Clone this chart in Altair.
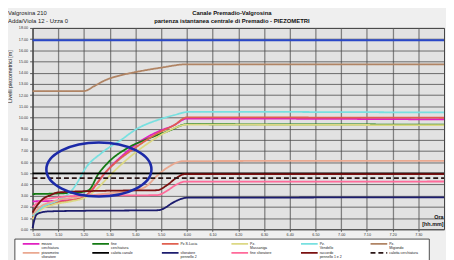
import altair as alt
import pandas as pd

# ---------------- data ----------------
# time in minutes after 5.00, levels in m
top_t = [0, 160]
top_v = [16.9, 16.9]

mezzo_t = [0, 10, 18, 22, 26, 30, 35, 42.8, 48.5, 55, 60, 160]
mezzo_v = [2.5, 2.55, 2.7, 3.2, 4.4, 5.5, 6.6, 8.0, 8.7, 9.3, 9.9, 9.82]

fine_t = [0, 10, 18, 21.8, 25.6, 29.4, 37.1, 43.9, 53, 60, 160]
fine_v = [3.15, 3.2, 3.3, 3.49, 4.95, 5.97, 7.29, 8.0, 8.8, 9.39, 9.35]

lucia_t = [0, 3, 8, 15, 20, 24, 28, 33, 40, 48, 55, 60, 160]
lucia_v = [1.0, 1.8, 2.3, 2.6, 2.9, 3.8, 5.0, 6.1, 7.3, 8.5, 9.3, 10.0, 9.97]

mass_t = [0, 3, 8, 15, 20, 25, 30, 37, 45, 52, 60, 160]
mass_v = [0.9, 1.7, 2.2, 2.5, 2.8, 3.6, 4.8, 6.3, 7.7, 8.7, 9.35, 9.3]

vend_t = [0, 4, 10, 15, 18, 20, 27, 34.5, 40, 48.5, 55, 61, 160]
vend_v = [1.2, 2.0, 2.6, 3.4, 4.4, 5.24, 6.85, 8.0, 8.9, 9.76, 10.2, 10.5, 10.44]

migi_t = [0, 20, 24, 28, 34, 40, 50, 60, 160]
migi_v = [12.36, 12.36, 12.8, 13.3, 13.75, 14.05, 14.45, 14.75, 14.75]

piez_t = [0, 3, 8, 15, 25, 35, 40.9, 44, 48.5, 53, 58.7, 160]
piez_v = [1.3, 2.0, 2.5, 2.8, 3.1, 3.35, 3.55, 3.8, 4.8, 5.6, 6.1, 6.11]

calc_t = [0, 160]
calc_v = [5.0, 5.0]

sfio_t = [0, 0.8, 1.5, 3.4, 6.5, 19, 48.5, 51, 54, 57, 60, 160]
sfio_v = [0.1, 0.9, 1.3, 1.5, 1.6, 1.65, 1.7, 1.85, 2.3, 2.65, 2.82, 2.85]

fsfi_t = [0, 3, 8, 20, 48.5, 52, 56, 59, 160]
fsfi_v = [2.0, 2.5, 2.8, 3.0, 3.05, 3.4, 4.0, 4.25, 4.27]

racc_t = [0, 2, 4, 7, 10, 30, 48.5, 52, 56, 59, 160]
racc_v = [1.5, 2.2, 2.7, 3.05, 3.3, 3.45, 3.49, 3.9, 4.6, 4.92, 4.92]

ccer_t = [0, 160]
ccer_v = [4.57, 4.57]

names = ["mezzo|cerchiatura", "fine|cerchiatura", "Pz.S.Lucia", "Pz.|Massaniga",
         "Pz.|Vendello", "Pz.|Migiondo", "piezometro|sfioratore", "calotta canale",
         "sfioratore|pennello 2", "fine sfioratore", "raccordo|pennello 1 e 2",
         "calotta cerchiatura"]
colors = ["#e020c0", "#137a13", "#e06050", "#dcd884", "#78e0e0", "#b08464",
          "#eaa890", "#000000", "#1c1c6e", "#ff6a9a", "#7a1010", "#2a1616"]
dashes = [[1, 0]] * 11 + [[5, 3]]
widths = [1.8, 1.8, 1.2, 1.2, 1.2, 1.2, 1.2, 1.8, 1.5, 1.3, 1.8, 1.8]

series = [
    (names[0], mezzo_t, mezzo_v), (names[1], fine_t, fine_v),
    (names[2], lucia_t, lucia_v), (names[3], mass_t, mass_v),
    (names[4], vend_t, vend_v), (names[5], migi_t, migi_v),
    (names[6], piez_t, piez_v), (names[7], calc_t, calc_v),
    (names[8], sfio_t, sfio_v), (names[9], fsfi_t, fsfi_v),
    (names[10], racc_t, racc_v), (names[11], ccer_t, ccer_v),
]

x_ticks = list(range(0, 160, 10))
y_ticks = list(range(0, 19))

# annotation ellipse (centre in data units)
ell_t = [25.8]
ell_v = [5.34]

left_header = ["Valgrosina 210", "Adda/Viola 12 - Uzza 0"]
main_title = ["Canale Premadio-Valgrosina",
              "partenza istantanea centrale di Premadio  - PIEZOMETRI"]

# ---------------- build ----------------
rows = []
for name, ts, vs in series:
    for t, v in zip(ts, vs):
        rows.append({"s": name, "t": t, "v": v})
df = pd.DataFrame(rows)
df_top = pd.DataFrame({"t": top_t, "v": top_v})
df_ell = pd.DataFrame({"t": ell_t, "v": ell_v})
one = pd.DataFrame({"a": [0]})
df_leg = pd.DataFrame({"s": names,
                       "col": [i % 6 for i in range(len(names))],
                       "row": [i // 6 for i in range(len(names))]})

FONT = "Liberation Sans"

xscale = alt.Scale(domain=[0, 160], nice=False, zero=False)
yscale = alt.Scale(domain=[0, 18], nice=False)
color_scale = alt.Scale(domain=names, range=colors)
dash_scale = alt.Scale(domain=names, range=dashes)
width_scale = alt.Scale(domain=names, range=widths)

label_expr = ("floor((300+datum.value)/60) + '.' + "
              "(((300+datum.value)%60) < 10 ? '0' : '') + ((300+datum.value)%60)")

xaxis = alt.Axis(values=x_ticks, labelExpr=label_expr, labelFontSize=3.8,
                 labelColor="#333", tickSize=2, labelPadding=1, labelOverlap=False,
                 grid=True, gridColor="#808080", gridWidth=1.3,
                 domain=False, tickColor="#555",
                 title=["Ora", "[hh.mm]"], titleFontSize=5.5, titleFontWeight="bold",
                 titleAlign="right", titleX=418, titleY=-13, titleLineHeight=7,
                 titleBaseline="middle", titleColor="#111", titleFont=FONT)
yaxis = alt.Axis(values=y_ticks, format=".2f", labelFontSize=3.8, labelColor="#333",
                 tickSize=3, labelPadding=2, labelOverlap=False, grid=True,
                 gridColor="#4a4a4a", gridWidth=0.8, domain=True,
                 domainColor="#444", tickColor="#555",
                 title="Livelli piezometrici [m]", titleFontSize=5.5,
                 titleFontWeight="normal", titleX=-23, titleY=49, titleAngle=-90,
                 titleAlign="center", titleBaseline="middle", titleColor="#222",
                 titleFont=FONT)

lines = alt.Chart(df).mark_line(interpolate="monotone").encode(
    x=alt.X("t:Q", scale=xscale, axis=xaxis),
    y=alt.Y("v:Q", scale=yscale, axis=yaxis),
    color=alt.Color("s:N", scale=color_scale, legend=None),
    strokeDash=alt.StrokeDash("s:N", scale=dash_scale, legend=None),
    strokeWidth=alt.StrokeWidth("s:N", scale=width_scale, legend=None),
)

top_line = alt.Chart(df_top).mark_line(color="#2a48c8", strokeWidth=2).encode(
    x=alt.X("t:Q", scale=xscale, axis=None), y=alt.Y("v:Q", scale=yscale, axis=None))

ELL = "M -1 0 A 1 0.514 0 1 1 1 0 A 1 0.514 0 1 1 -1 0 Z"
ellipse = alt.Chart(df_ell).mark_point(shape=ELL, filled=False, stroke="#1c2aa8",
                                       strokeWidth=2.6, size=11449, opacity=1).encode(
    x=alt.X("t:Q", scale=xscale, axis=None), y=alt.Y("v:Q", scale=yscale, axis=None))

header = alt.Chart(one).mark_text(
    align="left", baseline="middle", fontSize=6, font=FONT, color="#222",
    lineHeight=8).encode(
    x=alt.value(-25), y=alt.value(-15), text=alt.value(left_header))

title_txt = alt.Chart(one).mark_text(
    align="center", baseline="middle", fontSize=6, font=FONT, fontWeight="bold",
    color="#111", lineHeight=8).encode(
    x=alt.value(203), y=alt.value(-15), text=alt.value(main_title))

# ---- legend (box + line samples + two-line labels) ----
leg_x = alt.Scale(domain=[0, 6], range=[-10, 415])
leg_y = alt.Scale(domain=[0, 1], range=[220, 229])

leg_box = alt.Chart(one).mark_rect(fill="#ffffff", stroke="#222", strokeWidth=0.8).encode(
    x=alt.value(-18), x2=alt.value(404), y=alt.value(215), y2=alt.value(240))

leg_sym = alt.Chart(df_leg).transform_calculate(col2="datum.col + 0.24").mark_rule().encode(
    x=alt.X("col:Q", scale=leg_x, axis=None),
    x2="col2:Q",
    y=alt.Y("row:Q", scale=leg_y, axis=None),
    color=alt.Color("s:N", scale=color_scale, legend=None),
    strokeDash=alt.StrokeDash("s:N", scale=dash_scale, legend=None),
    strokeWidth=alt.StrokeWidth("s:N", scale=width_scale, legend=None),
)

leg_txt = alt.Chart(df_leg).mark_text(
    align="left", baseline="top", dx=19, dy=-1.8, fontSize=3.6, font=FONT,
    color="#222", lineBreak="|", lineHeight=4).encode(
    x=alt.X("col:Q", scale=leg_x, axis=None),
    y=alt.Y("row:Q", scale=leg_y, axis=None),
    text="s:N")

chart = alt.layer(lines, top_line, ellipse, header, title_txt,
                  leg_box, leg_sym, leg_txt).resolve_scale(
    x="independent", y="independent").properties(
    width=419, height=205,
    padding={"left": 25, "top": 18, "right": 2, "bottom": 29},
    autosize=alt.AutoSizeParams(type="none"),
    background="#efefef",
).configure_view(stroke="#404040", fill="#e2e2e2")

chart.save("out.html", embed_options={"renderer": "svg", "actions": False})
